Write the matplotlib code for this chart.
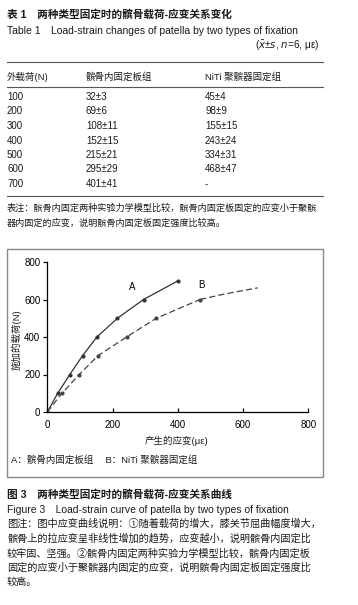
import matplotlib.pyplot as plt
from matplotlib.patches import Rectangle
from matplotlib.lines import Line2D

W, H = 358, 605
CN = ['Liberation Sans', 'Noto Sans CJK SC', 'DejaVu Sans']

# table data
loads = [100, 200, 300, 400, 500, 600, 700]
plate_strain = ['32±3', '69±6', '108±11', '152±15', '215±21', '295±29', '401±41']
niti_strain = ['45±4', '98±9', '155±15', '243±24', '334±31', '468±47', '-']

# curve data (strain, load)
a_strain = [0, 32, 69, 108, 152, 215, 295, 401]
a_load = [0, 100, 200, 300, 400, 500, 600, 700]
b_strain = [0, 45, 98, 155, 243, 334, 468, 540, 600, 645]
b_load = [0, 100, 200, 300, 400, 500, 600, 628, 648, 662]

fig = plt.figure(figsize=(W / 100, H / 100), dpi=100)


def px(x, y):
    return x / W, 1 - y / H


def txt(x, y, s, size=7.3, **kw):
    kw.setdefault('va', 'center')
    kw.setdefault('color', '#1a1a1a')
    kw.setdefault('family', CN)
    fig.text(*px(x, y), s, fontsize=size, **kw)


def hline(y, x0=7, x1=323, color='#555555', lw=0.8):
    fig.add_artist(Line2D([x0 / W, x1 / W], [1 - y / H, 1 - y / H],
                          transform=fig.transFigure, color=color, lw=lw))


# ---- table ----
txt(7, 14, '表 1　两种类型固定时的髌骨载荷-应变关系变化', 7.7, weight='bold')
txt(7, 31, 'Table 1　Load-strain changes of patella by two types of fixation', 7.5)
txt(320, 46, r'($\bar{x}$±$s$, $n$=6, με)', 7.3, ha='right')
hline(62)
txt(7, 77, '外载荷(N)', 6.8)
txt(86, 77, '髌骨内固定板组', 6.8)
txt(205, 77, 'NiTi 聚髌器固定组', 6.8)
hline(87)
for i, (ld, a, b) in enumerate(zip(loads, plate_strain, niti_strain)):
    y = 97 + i * 14.5
    txt(7, y, str(ld), 7)
    txt(86, y, a, 7)
    txt(205, y, b, 7)
hline(196)
txt(7, 208, '表注：髌骨内固定两种实验力学模型比较，髌骨内固定板固定的应变小于聚髌', 6.6)
txt(7, 223, '器内固定的应变，说明髌骨内固定板固定强度比较高。', 6.6)

# ---- figure frame ----
fig.add_artist(Rectangle((7 / W, 1 - 477 / H), 316 / W, 228 / H,
                         transform=fig.transFigure, fill=False,
                         edgecolor='#888888', lw=1))

ax = fig.add_axes([47.3 / W, 1 - 412 / H, 261 / W, 150 / H])
ax.plot(a_strain, a_load, '-', color='#333333', lw=0.9,
        marker='o', ms=2, mfc='#333333', mec='#333333')
ax.plot(b_strain[:7], b_load[:7], '--', color='#444444', lw=0.9,
        dashes=(5, 2.5), marker='o', ms=2, mfc='#444444', mec='#444444')
ax.plot(b_strain[6:], b_load[6:], '--', color='#444444', lw=0.9, dashes=(5, 2.5))
ax.text(259, 665, 'A', fontsize=7, family=CN, ha='center', va='center')
ax.text(473, 677, 'B', fontsize=7, family=CN, ha='center', va='center')
ax.set_xlim(0, 800)
ax.set_ylim(0, 800)
ax.set_xticks([0, 200, 400, 600, 800])
ax.set_yticks([0, 200, 400, 600, 800])
for s in ['top', 'right']:
    ax.spines[s].set_visible(False)
for s in ['left', 'bottom']:
    ax.spines[s].set_linewidth(0.9)
ax.tick_params(axis='x', direction='in', length=3, width=0.9, labelsize=7, pad=6)
ax.tick_params(axis='y', direction='out', length=3, width=0.9, labelsize=7, pad=2)
for lab in ax.get_xticklabels() + ax.get_yticklabels():
    lab.set_family(CN)
ax.set_facecolor('none')

txt(177, 441, '产生的应变(με)', 6.8, ha='center')
txt(17, 340, '施加的载荷(N)', 6.8, ha='center', rotation=90)
txt(11, 460, 'A：髌骨内固定板组　 B：NiTi 聚髌器固定组', 6.8)

# ---- caption ----
txt(7, 494, '图 3　两种类型固定时的髌骨载荷-应变关系曲线', 7.7, weight='bold')
txt(7, 510, 'Figure 3　Load-strain curve of patella by two types of fixation', 7.5)
notes = [
    '图注：图中应变曲线说明：①随着载荷的增大，膝关节屈曲幅度增大，',
    '髌骨上的拉应变呈非线性增加的趋势，应变越小，说明髌骨内固定比',
    '较牢固、坚强。②髌骨内固定两种实验力学模型比较，髌骨内固定板',
    '固定的应变小于聚髌器内固定的应变，说明髌骨内固定板固定强度比',
    '较高。',
]
for i, line in enumerate(notes):
    txt(7, 524 + i * 14.6, line, 7.33)

fig.savefig('out.png', dpi=100)
